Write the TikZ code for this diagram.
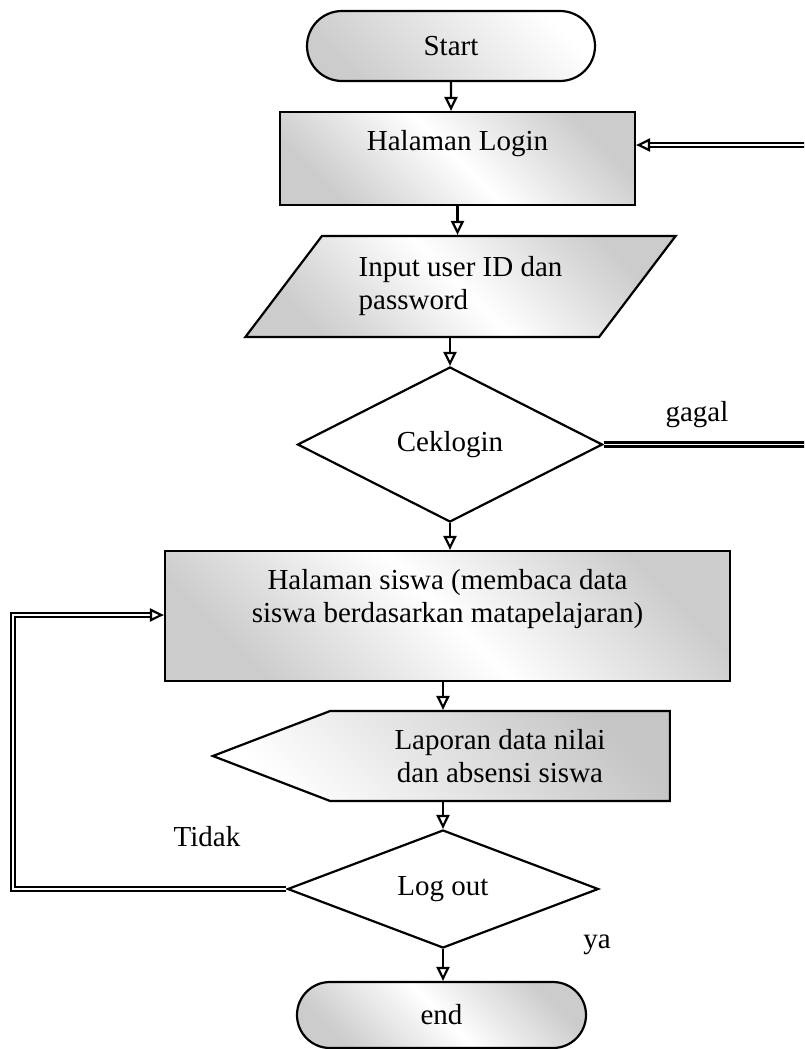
\documentclass[tikz,border=0pt]{standalone}
\usepackage{fontspec}
\setmainfont{Liberation Serif}
\usetikzlibrary{shapes.geometric, shapes.misc, shapes.symbols, arrows.meta}

\begin{document}
\begin{tikzpicture}[x=0.5pt, y=-0.5pt]
      % Gaya dasar untuk semua bentuk
      \tikzstyle{bentuk}=[
        draw=black,
        line width=1.1pt,
        inner sep=2pt,
        font=\fontsize{14.5}{16.5}\selectfont
      ]
      % arsiran gelap di dua sudut (kiri bawah dan kanan atas)
      \tikzstyle{arsir_silang}=[top color=gray!40, bottom color=gray!40, middle color=white, shading angle=-45]
      \tikzstyle{arsir_bawah}=[top color=white, bottom color=gray!40, shading angle=-45]
      \tikzstyle{arsir_atas}=[top color=gray!45, bottom color=white, shading angle=-45]
      % mulai / selesai
      \tikzstyle{terminal_flow}=[bentuk, rounded rectangle, minimum width=148pt, minimum height=35pt]
      % proses
      \tikzstyle{proses}=[bentuk, rectangle, arsir_silang]
      % input / output
      \tikzstyle{masukan}=[bentuk, trapezium, trapezium left angle=49, trapezium right angle=131,
          trapezium stretches=true, minimum width=215.5pt, minimum height=50.5pt, arsir_silang, align=left]
      % keputusan
      \tikzstyle{keputusan}=[bentuk, diamond, fill=white, inner sep=0pt]
      % tampilan laporan (titik pusat = pusat badan persegi)
      \tikzstyle{tampilan}=[bentuk, signal, signal to=west, signal pointer angle=42,
          minimum width=228.5pt, minimum height=45pt, arsir_atas, align=center]
      % teks di samping garis
      \tikzstyle{keterangan}=[font=\fontsize{14.5}{16.5}\selectfont, inner sep=0pt]
      % panah
      \tikzstyle{panah}=[-{Triangle[open, length=7pt, width=6.5pt]}, line width=1.1pt]
      \tikzstyle{garis_ganda}=[double=white, double distance=0.9pt, line width=0.8pt]

      \useasboundingbox (0,0) rectangle (804,1049);
      \clip (0,0) rectangle (804,1049);

      % Start
      \node[terminal_flow, arsir_bawah] (start) at (451, 46) {Start};

      % Halaman Login
      \node[proses, minimum width=177.5pt, minimum height=46.5pt, text height=10pt, text depth=18pt] (login) at (457.5, 158.5) {Halaman Login};

      % Input user ID dan password
      \node[masukan] (input) at (460.5, 286.5) {Input user ID dan\\password};

      % Ceklogin
      \node[keputusan, minimum width=152.5pt, minimum height=77.5pt] (cek) at (450, 444.5) {Ceklogin};

      % Halaman siswa
      \node[proses, minimum width=282.5pt, minimum height=65pt, align=center, text depth=20.5pt] (siswa) at (447.5, 616) {Halaman siswa (membaca data\\siswa berdasarkan matapelajaran)};

      % Laporan
      \node[tampilan] (lapor) at (500, 756) {Laporan data nilai\\dan absensi siswa};

      % Log out
      \node[keputusan, minimum width=155.5pt, minimum height=59pt] (logout) at (443, 889) {Log out};

      % end
      \node[terminal_flow, minimum width=148.5pt, minimum height=33pt, arsir_silang] (selesai) at (441.5, 1015) {end};

      % keterangan cabang
      \node[keterangan] (gagal) at (697, 415) {gagal};
      \node[keterangan] (tidak) at (207, 837) {Tidak};
      \node[keterangan] (ya) at (597, 945) {ya};

      % titik belok garis kembali
      \coordinate (kanan) at (830, 145);
      \coordinate (kiri) at (13, 615);

      % alur utama
      \draw[panah] (start) -- (start |- login.north);
      \draw[panah] (login) -- (login |- input.north);
      \draw[panah] (input.south -| cek.north) -- (cek.north);
      \draw[panah] (cek.south) -- (cek.south |- siswa.north);
      \draw[panah] (siswa.south -| logout.north) -- (logout.north |- lapor.north);
      \draw[panah] (lapor.south -| logout.north) -- (logout.north);
      \draw[panah] (logout) -- (logout |- selesai.north);

      % gagal -> kembali ke login
      \draw[garis_ganda, panah] (cek.east) -- (cek.east -| kanan) -- (kanan) -- (login.east |- kanan);

      % tidak logout -> kembali ke halaman siswa
      \draw[garis_ganda, panah] (logout.west) -- (logout.west -| kiri) -- (kiri) -- (siswa.west |- kiri);
\end{tikzpicture}
\end{document}
